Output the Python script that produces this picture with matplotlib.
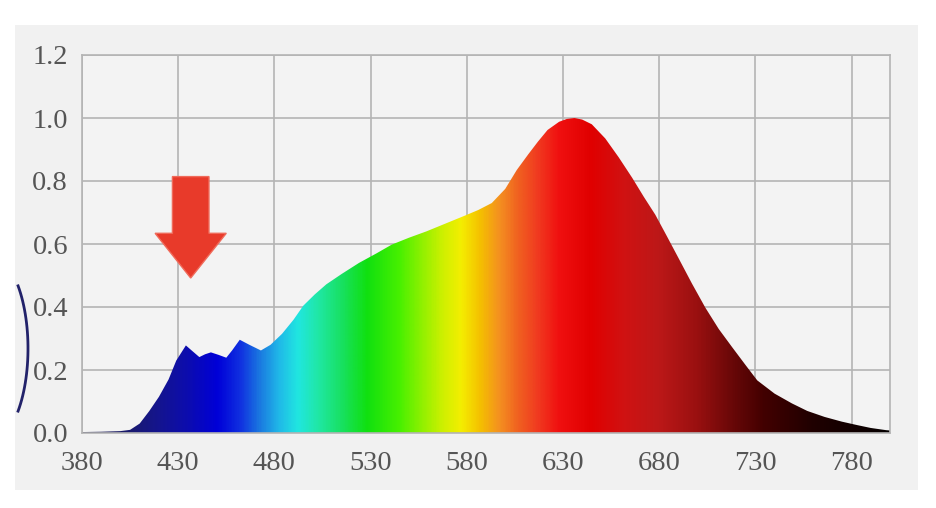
import numpy as np
import matplotlib
matplotlib.use('Agg')
import matplotlib.pyplot as plt
from matplotlib.colors import LinearSegmentedColormap
from matplotlib.patches import Polygon, Rectangle
from matplotlib.lines import Line2D

# spectrum (wavelength nm, relative intensity)
wavelength = [380, 390, 400, 405, 410, 415, 420, 425, 429, 434, 437, 441, 444,
              447, 451, 455, 458, 462, 467, 473, 478, 484, 490, 495, 501, 507,
              515, 524, 533, 541, 550, 559, 569, 579, 586, 593, 600, 606, 612,
              617, 622, 628, 632, 636, 640, 645, 652, 659, 666, 672, 678, 684,
              690, 697, 704, 711, 718, 725, 731, 740, 749, 757, 766, 775, 783,
              790, 798, 800]
intensity = [0.003, 0.004, 0.006, 0.01, 0.03, 0.07, 0.115, 0.17, 0.23, 0.278,
             0.262, 0.241, 0.25, 0.256, 0.248, 0.239, 0.262, 0.296, 0.28, 0.262,
             0.28, 0.315, 0.36, 0.404, 0.44, 0.472, 0.505, 0.54, 0.57, 0.598,
             0.62, 0.64, 0.665, 0.69, 0.708, 0.73, 0.775, 0.835, 0.885, 0.925,
             0.962, 0.988, 0.997, 1.0, 0.995, 0.98, 0.935, 0.875, 0.81, 0.75,
             0.693, 0.625, 0.556, 0.475, 0.398, 0.33, 0.272, 0.215, 0.167,
             0.125, 0.094, 0.07, 0.051, 0.036, 0.025, 0.016, 0.009, 0.008]

x_ticks = [380, 430, 480, 530, 580, 630, 680, 730, 780]
y_ticks = [0.0, 0.2, 0.4, 0.6, 0.8, 1.0, 1.2]

# colour stops of the rainbow fill (nm -> colour)
stop_nm = [380, 405, 420, 435, 450, 462, 472, 482, 492, 502, 515, 528, 545,
           558, 568, 577, 587, 597, 607, 617, 628, 645, 662, 680, 700, 718,
           735, 760, 800]
stop_col = ['#151545', '#1a1a70', '#141490', '#0c0cb0', '#0000d8', '#1030e0',
            '#1a78e0', '#20b8e8', '#20e6e0', '#20e8a8', '#18e060', '#10e010',
            '#48f000', '#98f000', '#d0f000', '#f4ee00', '#f4c000', '#f49020',
            '#f06020', '#f03a20', '#f01010', '#e00000', '#d01212', '#bc1818',
            '#9a1010', '#6a0808', '#420000', '#200000', '#050000']

fig = plt.figure(figsize=(9.37, 5.08), dpi=100)
fig.patch.set_facecolor('white')
bg = Rectangle((15 / 937, 1 - 490 / 508), 903 / 937, 465 / 508,
               transform=fig.transFigure, facecolor='#f1f1f1',
               edgecolor='none', zorder=-5)
fig.add_artist(bg)

ax = fig.add_axes([82 / 937, 1 - 433 / 508, 808 / 937, 378 / 508])
ax.set_zorder(1)
ax.set_facecolor('#f3f3f3')
ax.set_xlim(380, 800)
ax.set_ylim(0, 1.2)
ax.set_xticks(x_ticks)
ax.set_yticks(y_ticks)
ax.set_yticklabels([f'{v:.1f}' for v in y_ticks])
ax.grid(True, color='#b4b4b4', lw=1.2)
ax.set_axisbelow(True)
for s in ax.spines.values():
    s.set_color('#b4b4b4')
    s.set_linewidth(1.2)
ax.tick_params(length=0, labelsize=20.5, labelcolor='#555555')
ax.tick_params(axis='x', pad=13)
ax.tick_params(axis='y', pad=10)
for lab in ax.get_xticklabels() + ax.get_yticklabels():
    lab.set_family('Liberation Serif')

# rainbow fill clipped to the curve
cmap = LinearSegmentedColormap.from_list(
    'spec', [((n - 380) / 420, c) for n, c in zip(stop_nm, stop_col)], N=512)
grad = np.linspace(0, 1, 840).reshape(1, -1)
area = ax.fill_between(wavelength, intensity, 0, color='none', lw=0)
im = ax.imshow(grad, cmap=cmap, extent=[380, 800, 0, 1.2], aspect='auto',
               interpolation='bilinear', zorder=2)
im.set_clip_path(area.get_paths()[0], transform=ax.transData)

# red arrow pointing at the blue peak
arrow = Polygon([(427, 0.814), (446, 0.814), (446, 0.634), (455, 0.634),
                 (436.5, 0.492), (418, 0.634), (427, 0.634)],
                closed=True, facecolor='#e83a2a', edgecolor='#f06a5a',
                lw=1, zorder=4)
ax.add_patch(arrow)

# dark bracket remnant at the left edge (pixel coords of the picture)
t = np.linspace(-0.72, 0.72, 30)
bx = (-12 + 40 * np.cos(t)) / 937
by = (159.5 + 95 * np.sin(t)) / 508
fig.add_artist(Line2D(bx, by, transform=fig.transFigure, color='#22226a',
                      lw=2, zorder=5))

fig.savefig('out.png', dpi=100)
